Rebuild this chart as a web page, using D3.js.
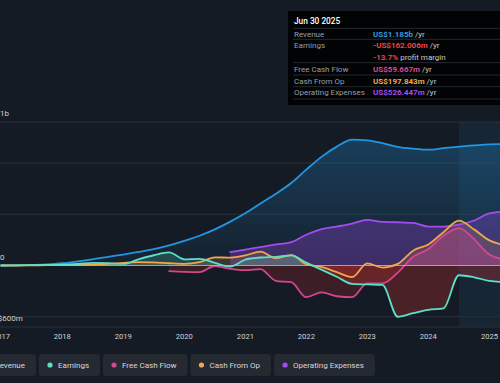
<!DOCTYPE html>
<html><head><meta charset="utf-8">
<script src="https://cdn.jsdelivr.net/npm/d3@7"></script>
<style>
html,body{margin:0;padding:0;background:#151b24;overflow:hidden}
svg{display:block;font-family:Roboto,"Noto Sans",sans-serif}
</style></head>
<body>
<svg id="c" width="500" height="383"></svg>
<script>
// ---- data ----
const quarters = ["2017-03-31","2017-06-30","2017-09-30","2017-12-31","2018-03-31","2018-06-30","2018-09-30","2018-12-31",
"2019-03-31","2019-06-30","2019-09-30","2019-12-31","2020-03-31","2020-06-30","2020-09-30","2020-12-31",
"2021-03-31","2021-06-30","2021-09-30","2021-12-31","2022-03-31","2022-06-30","2022-09-30","2022-12-31",
"2023-03-31","2023-06-30","2023-09-30","2023-12-31","2024-03-31","2024-06-30","2024-09-30","2024-12-31",
"2025-03-31","2025-06-30"];
// values in US$ millions (trailing twelve months)
const revenue = [0,2,5,10,22,40,60,85,107,132,160,196,240,290,352,428,510,605,700,805,935,1060,1160,1228,1220,1193,1158,1140,1130,1145,1160,1172,1182,1185];
const earnings = [0,2,4,6,8,15,25,22,15,60,100,128,60,65,25,-10,58,78,85,98,28,-40,-110,-180,-185,-190,-500,-465,-432,-418,-95,-115,-150,-162];
const freeCashFlow = [null,null,null,null,null,null,null,null,null,null,null,-55,-62,-65,-5,-33,-45,-35,-150,-163,-309,-262,-300,-309,-175,-175,-70,85,160,290,364,255,108,60];
const cashFromOp = [0,0,2,3,5,5,8,15,25,32,30,22,16,32,80,76,98,135,72,102,12,-14,-65,-112,20,-20,16,145,205,325,437,350,245,198];
const opExpenses = [null,null,null,null,null,null,null,null,null,null,null,null,null,null,null,130,155,180,205,228,300,355,380,408,446,425,422,415,380,380,398,439,508,526];

const yearTicks = [2017,2018,2019,2020,2021,2022,2023,2024,2025];
const yTickValues = [1400, 0, -600];
const yTickLabels = ["US$1b","US$0","-US$600m"];
const gridValues = [-500, 500, 1000];
const bandStart = "2024-09-30";

const seriesNames = ["Revenue","Earnings","Free Cash Flow","Cash From Op","Operating Expenses"];
const seriesColors = ["#2296e4","#5ce0c6","#d4468f","#f0a64c","#a54cf0"];

const tipDate = "Jun 30 2025";
const tipLabels = ["Revenue","Earnings","","Free Cash Flow","Cash From Op","Operating Expenses"];
const tipValues = ["US$1.185b","-US$162.006m","-13.7%","US$59.667m","US$197.843m","US$526.447m"];
const tipSuffix = [" /yr"," /yr"," profit margin"," /yr"," /yr"," /yr"];
const tipColors = ["#2d9be2","#ea4545","#ea4545","#d84a9c","#f2a74c","#a34ef0"];

// ---- chart ----
const svg = d3.select("#c");
const parse = d3.timeParse("%Y-%m-%d");
const dates = quarters.map(parse);

const x = d3.scaleTime().domain([dates[0], dates[dates.length-1]]).range([1.25, 504.5]);
const y = d3.scaleLinear().domain([-600, 1400]).range([327, 122]);

const defs = svg.append("defs");
const g1 = defs.append("linearGradient").attr("id","revGrad")
  .attr("gradientUnits","userSpaceOnUse").attr("x1",0).attr("x2",0).attr("y1",y(1400)).attr("y2",y(0));
g1.append("stop").attr("offset",0).attr("stop-color","#2394df").attr("stop-opacity",0.32);
g1.append("stop").attr("offset",1).attr("stop-color","#2394df").attr("stop-opacity",0.05);

defs.append("clipPath").attr("id","plot").append("rect").attr("x",0).attr("y",y(1400)).attr("width",500).attr("height",y(-600)-y(1400));
defs.append("clipPath").attr("id","pos").append("rect").attr("x",0).attr("y",y(1400)).attr("width",500).attr("height",y(0)-y(1400));
defs.append("clipPath").attr("id","neg").append("rect").attr("x",0).attr("y",y(0)).attr("width",500).attr("height",y(-600)-y(0));

// highlighted band
svg.append("rect").attr("x", x(parse(bandStart))).attr("y", y(1400))
  .attr("width", 520 - x(parse(bandStart))).attr("height", y(-600)-y(1400))
  .attr("fill","#1d4f73").attr("opacity",0.22);

// grid
svg.append("g").selectAll("line").data(gridValues.concat([1400,-600])).join("line")
  .attr("x1",0).attr("x2",500).attr("y1",d=>y(d)).attr("y2",d=>y(d))
  .attr("stroke","#283039").attr("stroke-width",1);

const plot = svg.append("g").attr("clip-path","url(#plot)");

function mkData(vals){ return dates.map((d,i)=>({d, v: vals[i]})); }
const curve = d3.curveMonotoneX;
const area = d3.area().defined(p=>p.v!=null).x(p=>x(p.d)).y0(y(0)).y1(p=>y(p.v)).curve(curve);
const line = d3.line().defined(p=>p.v!=null).x(p=>x(p.d)).y(p=>y(p.v)).curve(curve);

const allVals = [revenue, earnings, freeCashFlow, cashFromOp, opExpenses];
const posFill = ["url(#revGrad)", "#5ce0c6", "#d4468f", "#f0a64c", "#9a48e8"];
const posOp = [1, 0.2, 0.3, 0.16, 0.3];
const negOp = [0, 0.27, 0.2, 0.14, 0];

// areas: revenue, opex, cfo, fcf, earnings
[0,4,3,2,1].forEach(k=>{
  const data = mkData(allVals[k]);
  plot.append("g").attr("clip-path","url(#pos)").append("path").attr("d", area(data))
    .attr("fill", posFill[k]).attr("fill-opacity", posOp[k]);
  if (negOp[k] > 0) plot.append("g").attr("clip-path","url(#neg)").append("path").attr("d", area(data))
    .attr("fill", "#dc3434").attr("fill-opacity", negOp[k]);
});

// zero line
svg.append("line").attr("x1",0).attr("x2",500).attr("y1",y(0)).attr("y2",y(0))
  .attr("stroke","#b4b6bd").attr("stroke-width",1.2).attr("opacity",0.85);

// lines
[0,4,3,2,1].forEach(k=>{
  plot.append("path").attr("d", line(mkData(allVals[k]))).attr("fill","none")
    .attr("stroke", seriesColors[k]).attr("stroke-width",1.8).attr("stroke-linejoin","round").attr("stroke-linecap","round");
});

// y labels
svg.append("g").selectAll("text").data(yTickValues).join("text")
  .attr("x",-14.5).attr("y",d=>y(d)-6).text((d,i)=>yTickLabels[i])
  .attr("fill","#d0d2d6").attr("font-size",8);

// x labels
svg.append("g").selectAll("text").data(yearTicks).join("text")
  .attr("x",d=>x(new Date(d,0,1))+15).attr("y",339).attr("text-anchor","middle")
  .text(d=>d).attr("fill","#d0d2d6").attr("font-size",7.6);

// tooltip
const tip = svg.append("g");
tip.append("rect").attr("x",288).attr("y",11).attr("width",240).attr("height",94).attr("fill","#020304");
tip.append("text").attr("x",294).attr("y",24).text(tipDate).attr("fill","#fff").attr("font-size",8.3).attr("font-weight",500);
const rowY = [33.7, 45, 57, 68.7, 80.7, 92.3];
const sepY = [28.3, 39.3, 62.7, 75, 86.7, 99];
tip.selectAll("line").data(sepY).join("line").attr("x1",293).attr("x2",500).attr("y1",d=>d).attr("y2",d=>d)
  .attr("stroke","#2e3238").attr("stroke-width",0.8);
tip.append("g").selectAll("text").data(tipLabels).join("text")
  .attr("x",294).attr("y",(d,i)=>rowY[i]+2.8).text(d=>d).attr("fill","#9a9ea6").attr("font-size",8);
const vt = tip.append("g").selectAll("text").data(tipValues).join("text")
  .attr("x",373).attr("y",(d,i)=>rowY[i]+2.8).attr("font-size",8);
vt.append("tspan").text(d=>d).attr("fill",(d,i)=>tipColors[i]).attr("font-weight",700);
vt.append("tspan").text((d,i)=>tipSuffix[i]).attr("fill","#c8cace");

// legend
const leg = svg.append("g");
const gap = 3;
const widths = [];
const tmp = leg.append("text").attr("font-size",8);
seriesNames.forEach(n=>{ tmp.text(n); widths.push(tmp.node().getComputedTextLength() + 30); });
tmp.remove();
let lx = 39 - gap - widths[0];
seriesNames.forEach((n,i)=>{
  const gI = leg.append("g").attr("transform",`translate(${lx},354)`);
  gI.append("rect").attr("width",widths[i]).attr("height",22).attr("rx",3).attr("fill","#242932");
  gI.append("circle").attr("cx",11).attr("cy",11).attr("r",2.6).attr("fill",seriesColors[i]);
  gI.append("text").attr("x",19).attr("y",13.8).text(n).attr("fill","#d6d8dc").attr("font-size",8);
  lx += widths[i] + gap;
});
</script>
</body></html>
